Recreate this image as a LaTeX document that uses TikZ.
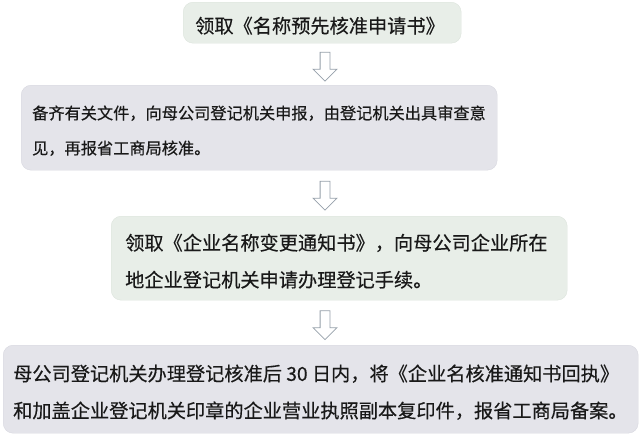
\documentclass[tikz,border=0pt]{standalone}
\usepackage{fontspec}
\setmainfont{Noto Sans CJK SC}[FakeBold=0.4]
\usetikzlibrary{shapes.arrows,calc}

\definecolor{boxgreen}{RGB}{232,238,232}
\definecolor{boxgray}{RGB}{228,228,234}
\definecolor{edgegreen}{RGB}{220,228,220}
\definecolor{edgegray}{RGB}{216,216,224}
\definecolor{arrowgray}{RGB}{150,160,170}

\begin{document}
\begin{tikzpicture}[x=1pt,y=-1pt,
        stepbox/.style={rounded corners=10pt, anchor=north west, inner sep=0pt},
        greenbox/.style={stepbox, fill=boxgreen, draw=edgegreen},
        graybox/.style={stepbox, fill=boxgray, draw=edgegray},
        steptext/.style={anchor=west, align=left, inner sep=0pt, text=black!90,
            font=\fontsize{19.2pt}{37pt}\selectfont},
        downarrow/.style={single arrow, draw=arrowgray, fill=white, shape border rotate=270,
            minimum height=29pt, minimum width=23pt, inner sep=4.5pt,
            single arrow head extend=7pt, line width=0.8pt}]
        \useasboundingbox (0,0) rectangle (640,434);
        \coordinate (axis) at (325,0);
        % the four steps
        \node[greenbox, minimum width=278pt, minimum height=41pt] (b1) at (183,2) {};
        \node[graybox, minimum width=476pt, minimum height=85pt] (b2) at (21,85) {};
        \node[greenbox, minimum width=456pt, minimum height=84pt] (b3) at (111,216) {};
        \node[graybox, minimum width=635pt, minimum height=88pt] (b4) at (3,345) {};
        \node[steptext] (t1) at ([xshift=12pt, yshift=-3pt]b1.west) {领取《名称预先核准申请书》};
        \node[steptext, font=\fontsize{16.2pt}{35pt}\selectfont] (t2) at ([xshift=11pt, yshift=-3pt]b2.west)
            {备齐有关文件，向母公司登记机关申报，由登记机关出具审查意\\见，再报省工商局核准。};
        \node[steptext] (t3) at ([xshift=14pt, yshift=-3pt]b3.west)
            {领取《企业名称变更通知书》，向母公司企业所在\\地企业登记机关申请办理登记手续。};
        \node[steptext] (t4) at ([xshift=10pt, yshift=-3pt]b4.west)
            {母公司登记机关办理登记核准后 30 日内，将《企业名核准通知书回执》\\和加盖企业登记机关印章的企业营业执照副本复印件，报省工商局备案。};
        % arrows between them
        \node[downarrow] (a1) at ($(axis |- b1.south)!0.5!(axis |- b2.north)$) {};
        \node[downarrow] (a2) at ($(axis |- b2.south)!0.5!(axis |- b3.north)$) {};
        \node[downarrow] (a3) at ($(axis |- b3.south)!0.5!(axis |- b4.north)$) {};
    \end{tikzpicture}
\end{document}
